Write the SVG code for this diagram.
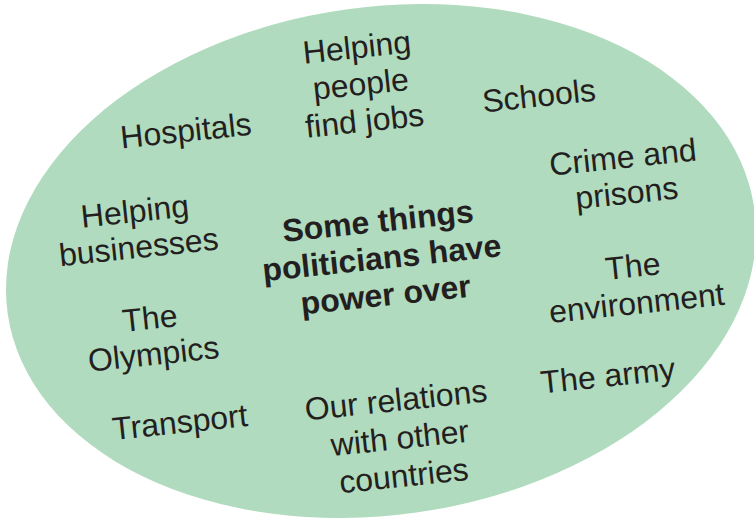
<svg xmlns="http://www.w3.org/2000/svg" width="754" height="520" viewBox="0 0 754 520">
  <style>
    .bg { fill: #b1dbbe; }
    .lbl { font-family: "Liberation Sans", Arial, Helvetica, sans-serif; font-size: 32px; fill: #231f20; text-anchor: middle; }
    .title { font-weight: bold; }
  </style>
  <rect width="754" height="520" fill="#ffffff"/>
  <g id="oval">
    <ellipse class="bg" cx="381" cy="261" rx="377" ry="254" transform="rotate(-8 381 261)"/>
  </g>
  <g id="connectors"/>
  <g id="centre" transform="translate(379 232) rotate(-6)">
    <text class="lbl title"><tspan x="0" y="0">Some things</tspan><tspan x="0" dy="37">politicians have</tspan><tspan x="0" dy="37">power over</tspan></text>
  </g>
  <g id="hospitals" transform="translate(187 141.5) rotate(-6)">
    <text class="lbl"><tspan x="0" y="0">Hospitals</tspan></text>
  </g>
  <g id="jobs" transform="translate(358 58) rotate(-6)">
    <text class="lbl"><tspan x="0" y="0">Helping</tspan><tspan x="0" dy="37">people</tspan><tspan x="0" dy="37">find jobs</tspan></text>
  </g>
  <g id="schools" transform="translate(540 106.5) rotate(-6)">
    <text class="lbl"><tspan x="0" y="0">Schools</tspan></text>
  </g>
  <g id="crime" transform="translate(624 168) rotate(-6)">
    <text class="lbl"><tspan x="0" y="0">Crime and</tspan><tspan x="0" dy="36">prisons</tspan></text>
  </g>
  <g id="businesses" transform="translate(136 222) rotate(-6)">
    <text class="lbl"><tspan x="0" y="0">Helping</tspan><tspan x="0" dy="36">businesses</tspan></text>
  </g>
  <g id="environment" transform="translate(634 277) rotate(-6)">
    <text class="lbl"><tspan x="0" y="0">The</tspan><tspan x="0" dy="37">environment</tspan></text>
  </g>
  <g id="olympics" transform="translate(151 329) rotate(-6)">
    <text class="lbl"><tspan x="0" y="0">The</tspan><tspan x="0" dy="36">Olympics</tspan></text>
  </g>
  <g id="army" transform="translate(609 386.5) rotate(-6)">
    <text class="lbl"><tspan x="0" y="0">The army</tspan></text>
  </g>
  <g id="transport" transform="translate(181 433) rotate(-6)">
    <text class="lbl"><tspan x="0" y="0">Transport</tspan></text>
  </g>
  <g id="relations" transform="translate(397 411) rotate(-6)">
    <text class="lbl"><tspan x="0" y="0">Our relations</tspan><tspan x="0" dy="38">with other</tspan><tspan x="0" dy="38">countries</tspan></text>
  </g>
</svg>
